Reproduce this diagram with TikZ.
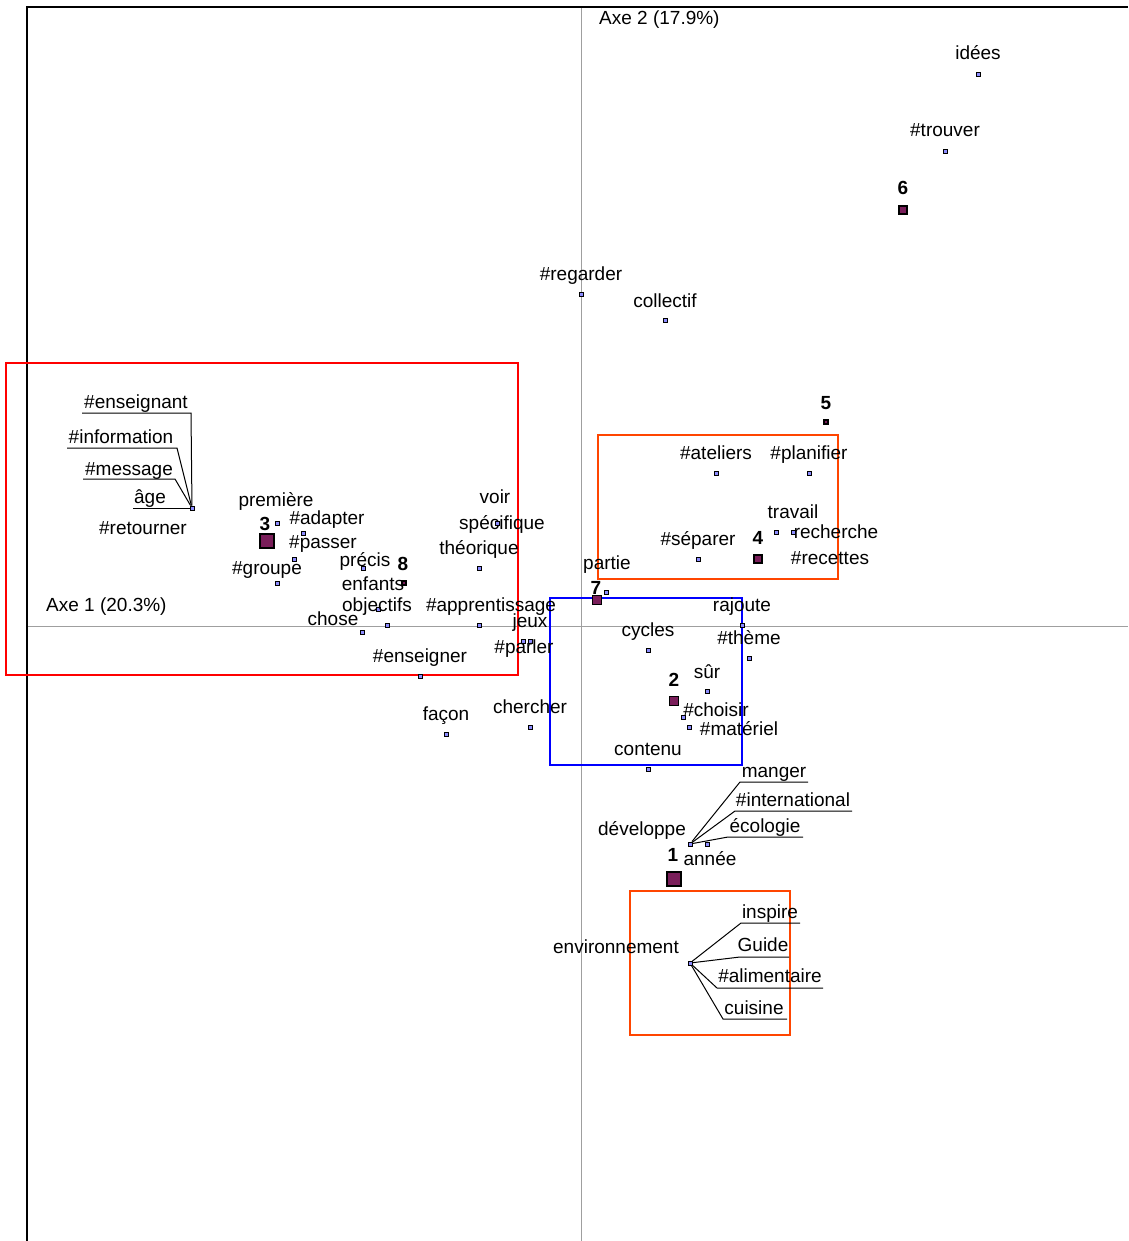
\documentclass[tikz,border=0pt]{standalone}
\usepackage{fontspec}
\setmainfont{Liberation Sans}
\usepackage{xcolor}
\usepackage{tikz}

\definecolor{classcol}{RGB}{122,30,90}
\definecolor{boxorange}{RGB}{255,69,0}
\tikzset{
  mot/.style={draw=black, fill=blue!45, rectangle, minimum size=4pt, inner sep=0pt, line width=0.9pt},
  classe/.style={draw=black, fill=classcol, rectangle, minimum size=#1, inner sep=0pt, line width=1.1pt},
  lab/.style={anchor=base, inner sep=0pt, font=\fontsize{19}{22}\selectfont},
  num/.style={anchor=base, inner sep=0pt, font=\fontsize{19}{22}\selectfont\bfseries},
  leader/.style={black, line width=1pt},
  zone/.style={line width=2pt}
}

\begin{document}
\begin{tikzpicture}[x=1pt, y=-1pt]
        \useasboundingbox (0,0) rectangle (1128,1241);

        % Frame and axes
        \draw[gray!75, line width=0.8pt] (581,7) -- (581,1241);
        \draw[gray!75, line width=0.8pt] (27,626) -- (1128,626);
        \draw[line width=2pt] (27,1241) -- (27,7) -- (1128,7);
        \node[lab, anchor=base west] (axe1) at (46,611) {Axe 1 (20.3\%)};
        \node[lab, anchor=base west] (axe2) at (599,25) {Axe 2 (17.9\%)};

        % Highlighted zones
        \draw[zone, red] (6,363) rectangle (518,675);
        \draw[zone, boxorange] (598,435) rectangle (838,579);
        \draw[zone, blue] (550,598) rectangle (742,765);
        \draw[zone, boxorange] (630,891) rectangle (790,1035);

        % Class points
        \node[classe=14pt] (c1) at (674,879) {};
        \node[classe=9pt] (c2) at (674,701) {};
        \node[classe=14pt] (c3) at (267,541) {};
        \node[classe=8pt] (c4) at (758,559) {};
        \node[classe=4pt] (c5) at (826,422) {};
        \node[classe=8pt] (c6) at (903,210) {};
        \node[classe=9pt] (c7) at (597,600) {};
        \node[classe=4pt] (c8) at (404,583) {};
        \node[num] (n1) at (673,861) {1};
        \node[num] (n2) at (674,686) {2};
        \node[num] (n3) at (265,530) {3};
        \node[num] (n4) at (758,544) {4};
        \node[num] (n5) at (826,409) {5};
        \node[num] (n6) at (903,195) {6};
        \node[num] (n7) at (596,594) {7};
        \node[num] (n8) at (403,570) {8};

        % Word points, upper part
        \node[mot] (idees) at (978,74) {};
        \node[mot] (trouver) at (945,151) {};
        \node[mot] (regarder) at (581,294) {};
        \node[mot] (collectif) at (665,320) {};
        \node[lab] at (978,60) {idées};
        \node[lab] at (945,137) {\#trouver};
        \node[lab] at (581,280) {\#regarder};
        \node[lab] at (665,307) {collectif};

        % Word points, right cluster
        \node[mot] (ateliers) at (716,473) {};
        \node[mot] (planifier) at (809,473) {};
        \node[mot] (travail) at (793,532) {};
        \node[mot] (recherche) at (776,532) {};
        \node[mot] (separer) at (698,559) {};
        \node[mot] (partie) at (606,592) {};
        \node[lab] at (716,459) {\#ateliers};
        \node[lab] at (809,459) {\#planifier};
        \node[lab] at (793,518) {travail};
        \node[lab] at (836,538) {recherche};
        \node[lab] at (698,545) {\#séparer};
        \node[lab] at (830,564) {\#recettes};
        \node[lab] at (607,569) {partie};

        % Word points, centre right
        \node[mot] (rajoute) at (742,625) {};
        \node[mot] (theme) at (749,658) {};
        \node[mot] (cycles) at (648,650) {};
        \node[mot] (sur) at (707,691) {};
        \node[mot] (choisir) at (683,717) {};
        \node[mot] (materiel) at (689,727) {};
        \node[mot] (contenu) at (648,769) {};
        \node[lab] at (742,611) {rajoute};
        \node[lab] at (749,644) {\#thème};
        \node[lab] at (648,636) {cycles};
        \node[lab] at (707,678) {sûr};
        \node[lab] at (716,716) {\#choisir};
        \node[lab] at (739,735) {\#matériel};
        \node[lab] at (648,755) {contenu};

        % Lower right, with leader lines
        \node[mot] (hubA) at (690,844) {};
        \node[mot] (annee) at (707,844) {};
        \node[lab] at (642,835) {développe};
        \node[lab] at (710,865) {année};
        \node[lab] at (774,777) {manger};
        \node[lab] at (793,806) {\#international};
        \node[lab] at (765,832) {écologie};
        \coordinate (mangerA) at (740,782); \coordinate (mangerB) at (808,782);
        \coordinate (interA) at (735,811); \coordinate (interB) at (852,811);
        \coordinate (ecoA) at (728,837); \coordinate (ecoB) at (803,837);
        \draw[leader] (hubA) -- (mangerA) -- (mangerB);
        \draw[leader] (hubA) -- (interA) -- (interB);
        \draw[leader] (hubA) -- (ecoA) -- (ecoB);

        \node[mot] (hubB) at (690,963) {};
        \node[lab] at (616,953) {environnement};
        \node[lab] at (770,918) {inspire};
        \node[lab] at (763,951) {Guide};
        \node[lab] at (770,982) {\#alimentaire};
        \node[lab] at (754,1014) {cuisine};
        \coordinate (inspA) at (741,923); \coordinate (inspB) at (800,923);
        \coordinate (guideA) at (740,957); \coordinate (guideB) at (789,957);
        \coordinate (alimA) at (717,988); \coordinate (alimB) at (823,988);
        \coordinate (cuisA) at (723,1019); \coordinate (cuisB) at (787,1019);
        \draw[leader] (hubB) -- (inspA) -- (inspB);
        \draw[leader] (hubB) -- (guideA) -- (guideB);
        \draw[leader] (hubB) -- (alimA) -- (alimB);
        \draw[leader] (hubB) -- (cuisA) -- (cuisB);

        % Left cluster, with leader lines
        \node[mot] (hubC) at (192,508) {};
        \node[lab] at (136,408) {\#enseignant};
        \node[lab] at (121,443) {\#information};
        \node[lab] at (129,475) {\#message};
        \node[lab] at (150,503) {âge};
        \node[lab] at (143,534) {\#retourner};
        \coordinate (ensA) at (191,413); \coordinate (ensB) at (82,413);
        \coordinate (infoA) at (177,448); \coordinate (infoB) at (67,448);
        \coordinate (msgA) at (175,479); \coordinate (msgB) at (83,479);
        \coordinate (ageB) at (133,508);
        \draw[leader] (hubC) -- (ensA) -- (ensB);
        \draw[leader] (hubC) -- (infoA) -- (infoB);
        \draw[leader] (hubC) -- (msgA) -- (msgB);
        \draw[leader] (hubC) -- (ageB);

        % Word points, left zone
        \node[mot] (premiere) at (277,523) {};
        \node[mot] (adapter) at (303,533) {};
        \node[mot] (passer) at (294,559) {};
        \node[mot] (groupe) at (277,583) {};
        \node[mot] (precis) at (363,568) {};
        \node[mot] (objectifs) at (378,609) {};
        \node[mot] (objectifsB) at (387,625) {};
        \node[mot] (chose) at (362,632) {};
        \node[mot] (apprent) at (479,625) {};
        \node[mot] (jeux) at (523,641) {};
        \node[mot] (parler) at (530,641) {};
        \node[mot] (enseigner) at (420,676) {};
        \node[mot] (voir) at (497,523) {};
        \node[mot] (theorique) at (479,568) {};
        \node[lab] at (276,506) {première};
        \node[lab] at (327,524) {\#adapter};
        \node[lab] at (323,548) {\#passer};
        \node[lab] at (267,574) {\#groupe};
        \node[lab] at (365,566) {précis};
        \node[lab] at (373,590) {enfants};
        \node[lab] at (377,611) {objectifs};
        \node[lab] at (333,625) {chose};
        \node[lab] at (491,611) {\#apprentissage};
        \node[lab] at (530,627) {jeux};
        \node[lab] at (524,653) {\#parler};
        \node[lab] at (420,662) {\#enseigner};
        \node[lab] at (495,503) {voir};
        \node[lab] at (502,529) {spécifique};
        \node[lab] at (479,554) {théorique};

        % Below the left zone
        \node[mot] (facon) at (446,734) {};
        \node[mot] (chercher) at (530,727) {};
        \node[lab] at (446,720) {façon};
        \node[lab] at (530,713) {chercher};
\end{tikzpicture}
\end{document}
